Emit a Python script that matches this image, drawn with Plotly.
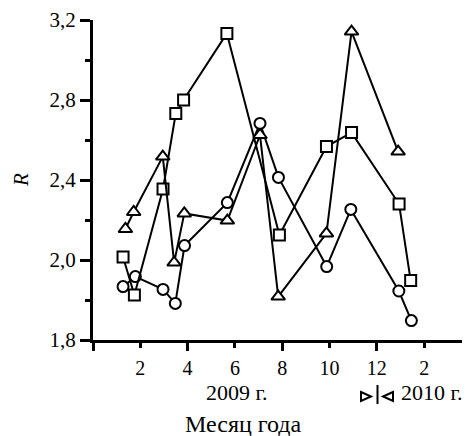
import plotly.graph_objects as go

# Month positions (2009 months; 13-14 = Jan-Feb 2010) and R values
sq_x = [1.27, 1.75, 2.96, 3.50, 3.83, 5.66, 7.88, 9.87, 10.93, 12.94, 13.43]
sq_y = [2.015, 1.825, 2.355, 2.733, 2.800, 3.133, 2.125, 2.567, 2.637, 2.280, 1.897]

ci_x = [1.27, 1.79, 2.96, 3.48, 3.87, 5.68, 7.06, 7.84, 9.88, 10.90, 12.93, 13.46]
ci_y = [1.867, 1.917, 1.853, 1.783, 2.072, 2.287, 2.683, 2.413, 1.967, 2.253, 1.845, 1.697]

tr_x = [1.37, 1.72, 2.95, 3.43, 3.86, 5.68, 7.06, 7.83, 9.87, 10.93, 12.90]
tr_y = [2.155, 2.240, 2.517, 1.987, 2.233, 2.197, 2.625, 1.817, 2.133, 3.142, 2.542]

x_tickvals = [2, 4, 6, 8, 10, 12, 14]
x_ticktext = ["2", "4", "6", "8", "10", "12", "2"]
x_long_ticks = [0, 4, 8, 12]
y_tickvals = [1.6, 2.0, 2.4, 2.8, 3.2]
y_ticktext = ["1,8", "2,0", "2,4", "2,8", "3,2"]

FONT = "Liberation Serif"
W, H = 465, 436
ML, MR, MT, MB = 93, 3, 20, 96

fig = go.Figure()

def add_series(x, y, symbol, size):
    fig.add_trace(go.Scatter(
        x=x, y=y, mode="lines+markers",
        line=dict(color="black", width=2),
        marker=dict(symbol=symbol, size=size, color="white",
                    line=dict(color="black", width=2)),
        showlegend=False, hoverinfo="skip"))

add_series(ci_x, ci_y, "circle", 11)
add_series(sq_x, sq_y, "square", 11)
add_series(tr_x, tr_y, "triangle-up", 12)

# invisible trace to carry the overlay axis with long ticks
fig.add_trace(go.Scatter(x=[None], y=[None], xaxis="x2", mode="markers",
                         showlegend=False, hoverinfo="skip"))

fig.update_layout(
    width=W, height=H,
    margin=dict(l=ML, r=MR, t=MT, b=MB),
    paper_bgcolor="white", plot_bgcolor="white",
    font=dict(family=FONT, size=20, color="black"),
    xaxis=dict(range=[0, 15.6], showgrid=False, zeroline=False,
               showline=True, linecolor="black", linewidth=3,
               tickmode="array", tickvals=x_tickvals, ticktext=x_ticktext,
               ticks="outside", ticklen=5, tickwidth=3, tickcolor="black",
               ticklabelstandoff=3,
               tickfont=dict(family=FONT, size=20)),
    xaxis2=dict(range=[0, 15.6], overlaying="x", side="bottom", anchor="y",
                showgrid=False, zeroline=False, showline=False,
                tickmode="array", tickvals=x_long_ticks,
                ticks="outside", ticklen=10, tickwidth=3, tickcolor="black",
                showticklabels=False),
    yaxis=dict(range=[1.6, 3.2], showgrid=False, zeroline=False,
               showline=True, linecolor="black", linewidth=3,
               tickmode="array", tickvals=y_tickvals, ticktext=y_ticktext,
               ticks="outside", ticklen=10, tickwidth=3, tickcolor="black",
               tickfont=dict(family=FONT, size=21),
               minor=dict(dtick=0.2, tick0=1.6, ticks="outside", ticklen=5,
                          tickwidth=3, tickcolor="black")),
)

pw, ph = W - ML - MR, H - MT - MB

def px(q):
    return (q - ML) / pw

def py(p):
    return (H - MB - p) / ph

fig.add_annotation(x=px(237), y=py(392), xref="paper", yref="paper",
                   text="2009 г.", showarrow=False,
                   font=dict(family=FONT, size=22), xanchor="center", yanchor="middle")
fig.add_annotation(x=px(399), y=py(392), xref="paper", yref="paper",
                   text="2010 г.", showarrow=False,
                   font=dict(family=FONT, size=22), xanchor="left", yanchor="middle")
fig.add_annotation(x=px(243.5), y=py(424), xref="paper", yref="paper",
                   text="Месяц года", showarrow=False,
                   font=dict(family=FONT, size=24), xanchor="center", yanchor="middle")
fig.add_annotation(x=px(21), y=py(180), xref="paper", yref="paper",
                   text="<i>R</i>", showarrow=False, textangle=-90,
                   font=dict(family=FONT, size=21), xanchor="center", yanchor="middle")

# year-boundary marker  ▷|◁
def path(points):
    s = "M " + " L ".join(f"{px(a):.5f},{py(b):.5f}" for a, b in points) + " Z"
    return s

fig.add_shape(type="path", xref="paper", yref="paper",
              path=path([(361, 392), (371, 396.5), (361, 401)]),
              line=dict(color="black", width=2), fillcolor="white")
fig.add_shape(type="path", xref="paper", yref="paper",
              path=path([(393, 392), (383, 396.5), (393, 401)]),
              line=dict(color="black", width=2), fillcolor="white")
fig.add_shape(type="line", xref="paper", yref="paper",
              x0=px(377.5), x1=px(377.5), y0=py(385), y1=py(404),
              line=dict(color="black", width=2))

fig.write_html("out.html")
